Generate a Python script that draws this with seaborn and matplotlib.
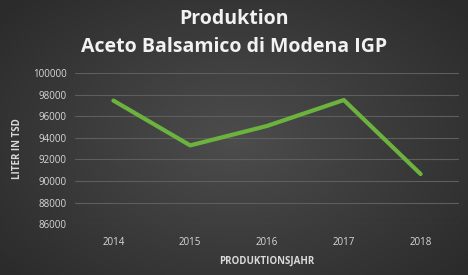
import numpy as np
import pandas as pd
import matplotlib
matplotlib.use("Agg")
import matplotlib.pyplot as plt
import seaborn as sns

years = ["2014", "2015", "2016", "2017", "2018"]
liters = [97450, 93300, 95100, 97500, 90650]
yticks = [86000, 88000, 90000, 92000, 94000, 96000, 98000, 100000]

df = pd.DataFrame({"Jahr": years, "Liter": liters})

sns.set_theme(style="dark")
plt.rcParams["font.family"] = ["Open Sans", "DejaVu Sans"]

fig = plt.figure(figsize=(4.68, 2.75), dpi=100)

# radial gradient background
bg = fig.add_axes([0, 0, 1, 1], zorder=-10)
yy, xx = np.mgrid[0:275, 0:468]
r = np.sqrt(((xx - 234) / 300.0) ** 2 + ((yy - 140) / 200.0) ** 2)
val = 0.30 - 0.13 * np.clip(r, 0, 1)
img = np.dstack([val, val, val])
bg.imshow(img, aspect="auto", extent=[0, 1, 0, 1])
bg.axis("off")

ax = fig.add_axes([0.1603, 0.1844, 0.8205, 0.5501])
ax.patch.set_alpha(0)
sns.lineplot(data=df, x="Jahr", y="Liter", ax=ax, color="#6BB33E", linewidth=3, sort=False)
ax.set_xlim(-0.5, 4.5)
ax.set_ylim(86000, 100000)
ax.set_yticks(yticks)
ax.set_yticklabels([str(v) for v in yticks])
ax.grid(axis="y", color="#5e5e5e", linewidth=0.8)
ax.grid(axis="x", visible=False)
for s in ax.spines.values():
    s.set_visible(False)
ax.tick_params(axis="y", colors="#d9d9d9", labelsize=7, length=0, pad=6)
ax.tick_params(axis="x", colors="#d9d9d9", labelsize=7, length=0, pad=9)
ax.set_xlabel("PRODUKTIONSJAHR", color="#d9d9d9", fontsize=7, fontweight="bold", labelpad=6)
ax.set_ylabel("LITER IN TSD", color="#d9d9d9", fontsize=7, fontweight="bold", labelpad=7)

fig.text(0.5, 0.932, "Produktion", ha="center", va="center", color="#f2f2f2",
         fontsize=14, fontweight="bold")
fig.text(0.5, 0.828, "Aceto Balsamico di Modena IGP", ha="center", va="center",
         color="#f2f2f2", fontsize=14, fontweight="bold")

fig.savefig("out.png", dpi=100)
